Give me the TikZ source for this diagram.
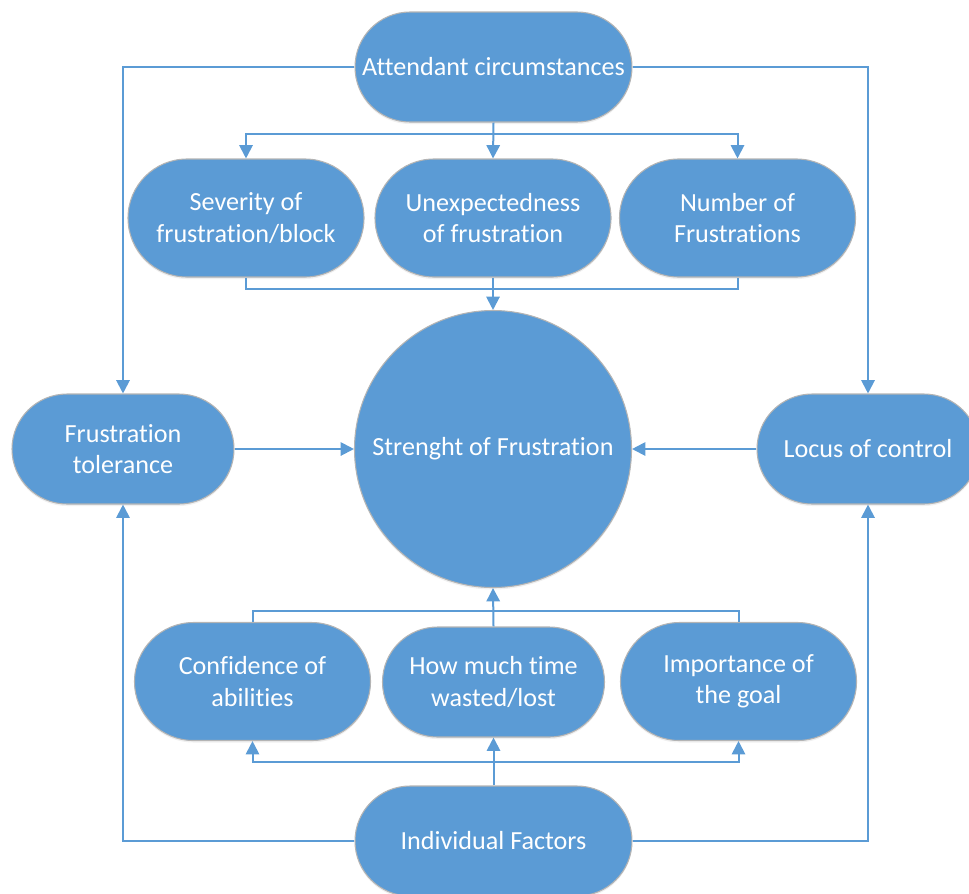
\documentclass[tikz,border=0pt]{standalone}
\usepackage{fontspec}
\setmainfont{Carlito}[Ligatures={NoCommon}]
\usetikzlibrary{arrows.meta,shapes.misc,shadows}
\definecolor{boxblue}{HTML}{5B9BD5}
\definecolor{linkblue}{HTML}{5B9BD5}
\definecolor{rimgray}{HTML}{B4B4B4}
\begin{document}
\begin{tikzpicture}[x=0.75pt,y=-0.75pt,
  box/.style={rounded rectangle, fill=boxblue, draw=rimgray, line width=0.8pt,
    text=white, align=center, inner sep=0pt,
    font=\fontsize{19.6}{23.5}\selectfont,
    drop shadow={opacity=0.12, shadow xshift=0pt, shadow yshift=-1.5pt}},
  bigbox/.style={box, minimum width=177pt, minimum height=88.5pt},
  midbox/.style={box, minimum width=166.5pt, minimum height=82.5pt},
  hub/.style={circle, fill=boxblue, draw=rimgray, line width=0.8pt,
    text=white, inner sep=0pt, minimum size=207.75pt,
    font=\fontsize{19.6}{23.5}\selectfont,
    drop shadow={opacity=0.12, shadow xshift=0pt, shadow yshift=-1.5pt}},
  link/.style={draw=linkblue, line width=1.5pt},
  arr/.style={link, -{Triangle[width=10pt,length=10pt]}}]
\useasboundingbox (0,0) rectangle (969,893);
\clip (0,0) rectangle (969,893);

% outer drivers
\node[box, minimum width=207.75pt, minimum height=82.5pt] (att) at (493.5,67) {Attendant circumstances};
\node[box, minimum width=207.75pt, minimum height=82.5pt] (ind) at (493.5,841) {Individual Factors};

% upper row of circumstances
\node[bigbox] (sev) at (246,218) {Severity of\\frustration/block};
\node[bigbox] (unx) at (493,218) {Unexpectedness\\of frustration};
\node[bigbox] (num) at (737.5,218) {Number of\\Frustrations};

% central outcome
\node[hub] (str) at (493,449) {Strenght of Frustration};

% side moderators
\node[midbox] (tol) at (123,449) {Frustration\\tolerance};
\node[midbox] (loc) at (868,449) {Locus of control};

% lower row of individual factors
\node[bigbox] (con) at (252.5,681.5) {Confidence of\\abilities};
\node[midbox] (how) at (493.5,682) {How much time\\wasted/lost};
\node[bigbox] (imp) at (738.5,681.5) {Importance of\\the goal};

% attendant circumstances fan out
\draw[arr] (att.west) -| (tol.north);
\draw[arr] (att.east) -| (loc.north);
\coordinate (tb) at (493,134);
\draw[arr] (att.south) -- (unx.north);
\draw[arr] (tb) -| (sev.north);
\draw[arr] (tb) -| (num.north);

% upper row joins into the hub
\draw[link] (sev.south) -- ++(0,11) -| (num.south);
\draw[arr] (unx.south) -- (str.north);

% side moderators into the hub
\draw[arr] (tol.east) -- (str.west);
\draw[arr] (loc.west) -- (str.east);

% lower row joins into the hub
\draw[link] (con.north) -- ++(0,-11) -| (imp.north);
\draw[arr] (how.north) -- (str.south);

% individual factors fan out
\coordinate (bb) at (493,762);
\draw[arr] (ind.north) -- (how.south);
\draw[arr] (bb) -| (con.south);
\draw[arr] (bb) -| (imp.south);
\draw[arr] (ind.west) -| (tol.south);
\draw[arr] (ind.east) -| (loc.south);
\end{tikzpicture}
\end{document}
